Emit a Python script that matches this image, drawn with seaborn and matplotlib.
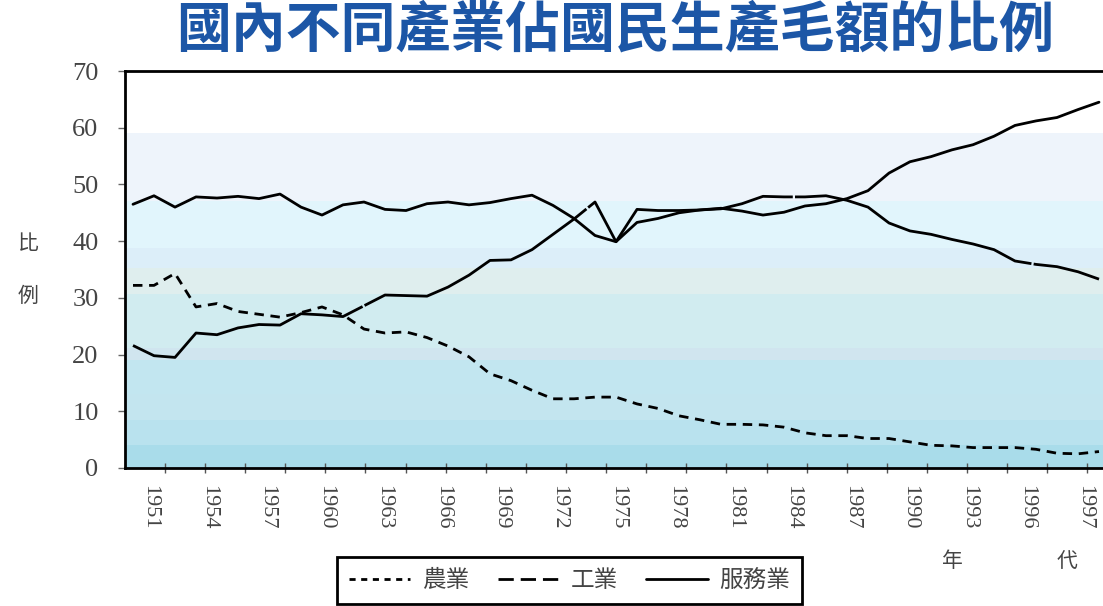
import numpy as np
import pandas as pd
import matplotlib
matplotlib.use("Agg")
import matplotlib.pyplot as plt
from matplotlib.lines import Line2D
import seaborn as sns

# data (share of GNP, %)
years = list(range(1951, 1998))
agriculture = [32.2, 32.2, 34.3, 28.4, 29.0, 27.6, 27.1, 26.6, 27.4, 28.4,
               27.0, 24.5, 23.8, 24.0, 23.0, 21.5, 19.6, 16.6, 15.4, 13.7,
               12.2, 12.2, 12.5, 12.5, 11.3, 10.5, 9.2, 8.5, 7.7, 7.7,
               7.6, 7.2, 6.2, 5.7, 5.7, 5.2, 5.2, 4.6, 4.0, 3.9,
               3.6, 3.6, 3.6, 3.3, 2.6, 2.5, 2.9]
industry = [21.6, 19.8, 19.5, 23.8, 23.5, 24.7, 25.3, 25.2, 27.2, 27.0,
            26.7, 28.6, 30.5, 30.4, 30.3, 31.9, 34.0, 36.6, 36.7, 38.5,
            41.2, 43.9, 46.9, 39.9, 45.6, 45.4, 45.4, 45.5, 45.7, 46.6,
            47.9, 47.8, 47.8, 48.0, 47.2, 46.0, 43.2, 41.8, 41.2, 40.3,
            39.5, 38.5, 36.5, 35.9, 35.5, 34.6, 33.3]
services = [46.5, 48.0, 46.0, 47.8, 47.6, 47.9, 47.5, 48.3, 46.0, 44.6,
            46.4, 46.9, 45.6, 45.4, 46.6, 46.9, 46.4, 46.8, 47.5, 48.1,
            46.3, 44.0, 41.0, 39.9, 43.3, 44.0, 45.0, 45.5, 45.8, 45.3,
            44.6, 45.1, 46.2, 46.6, 47.5, 48.9, 52.0, 54.0, 54.9, 56.1,
            57.0, 58.5, 60.4, 61.2, 61.8, 63.2, 64.5]
sectors = ["農業", "工業", "服務業"]
year_labels = ["1951", "1954", "1957", "1960", "1963", "1966", "1969", "1972",
               "1975", "1978", "1981", "1984", "1987", "1990", "1993", "1996",
               "1997"]
yticks = [0, 10, 20, 30, 40, 50, 60, 70]

df = pd.DataFrame({
    "year": years * 3,
    "value": agriculture + industry + services,
    "sector": [sectors[0]] * len(years) + [sectors[1]] * len(years) + [sectors[2]] * len(years),
})

sns.set_style("ticks")
plt.rcParams["font.family"] = ["Noto Sans CJK TC", "DejaVu Sans"]

W, H = 1103, 606
fig = plt.figure(figsize=(W / 100, H / 100), dpi=100)
ax = fig.add_axes([125 / W, 138 / H, 978 / W, 397 / H])

# light blue background bands
bands = [(0, 4, "#a9dcea"), (4, 8.5, "#b9e2ee"), (8.5, 13, "#c3e5ef"),
         (13, 19, "#c2e6f0"), (19, 21.2, "#d0e5ef"), (21.2, 30.7, "#d1ecf0"),
         (30.7, 35.3, "#dfeeee"), (35.3, 38.8, "#dceef9"), (38.8, 47, "#e1f5fc"),
         (47, 59, "#eef4fb")]
for lo, hi, c in bands:
    ax.axhspan(lo, hi, color=c, lw=0, zorder=0)

sns.lineplot(data=df, x="year", y="value", hue="sector", style="sector",
             palette=["black"] * 3,
             dashes={"農業": (3.4, 2.4), "工業": (90, 0.8), "服務業": ""},
             linewidth=2.0, legend=False, ax=ax, zorder=3)

ax.set_xlim(1951 - 8 / 21, 1951 + 970 / 21)
ax.set_ylim(0, 70)
ax.set_xlabel("")
ax.set_ylabel("比\n\n例", rotation=0, fontsize=15, color="#444444",
              linespacing=1.25, va="center")
ax.yaxis.set_label_coords(-0.099, 0.5)

ax.set_yticks(yticks)
ax.set_yticklabels([str(t) for t in yticks], fontfamily="Liberation Serif",
                   fontsize=19, color="#444444")
ax.tick_params(axis="y", direction="out", length=5, width=1, pad=14, color="#666666")

label_pos = np.linspace(1951 + 17 / 21, 1951 + 952 / 21, len(year_labels))
ax.set_xticks(label_pos)
ax.set_xticklabels(year_labels, rotation=270, fontfamily="Liberation Serif",
                   fontsize=16, color="#444444")
ax.tick_params(axis="x", which="major", length=0, pad=12)
ax.set_xticks(1952.52 + 1.91 * np.arange(24), minor=True)
ax.tick_params(axis="x", which="minor", direction="inout", length=7, width=1,
               color="#555555")

for side in ["left", "top", "bottom"]:
    ax.spines[side].set_linewidth(2)
    ax.spines[side].set_color("black")
ax.spines["right"].set_visible(False)

fig.text(615 / W, 1 - 30 / H, "國內不同產業佔國民生產毛額的比例", ha="center",
         va="center", fontsize=39.5, fontweight="bold", color="#1c56a6")

fig.text(952 / W, 1 - 561 / H, "年", ha="center", va="center", fontsize=15,
         color="#444444")
fig.text(1067 / W, 1 - 561 / H, "代", ha="center", va="center", fontsize=15,
         color="#444444")

handles = [Line2D([], [], color="black", lw=2, dashes=(2.2, 2.0)),
           Line2D([], [], color="black", lw=2, dashes=(5.5, 2.5)),
           Line2D([], [], color="black", lw=2)]
leg = fig.legend(handles, sectors, loc="upper left",
                 bbox_to_anchor=(337 / W, 1 - 557 / H), borderaxespad=0,
                 ncol=3, frameon=True, fancybox=False, edgecolor="black",
                 framealpha=1, handlelength=2.6, handletextpad=0.5,
                 columnspacing=1.2, borderpad=0.5, prop={"size": 17})
leg.get_frame().set_linewidth(2)
for t in leg.get_texts():
    t.set_color("#444444")

fig.savefig("out.png", dpi=100, facecolor="white")
